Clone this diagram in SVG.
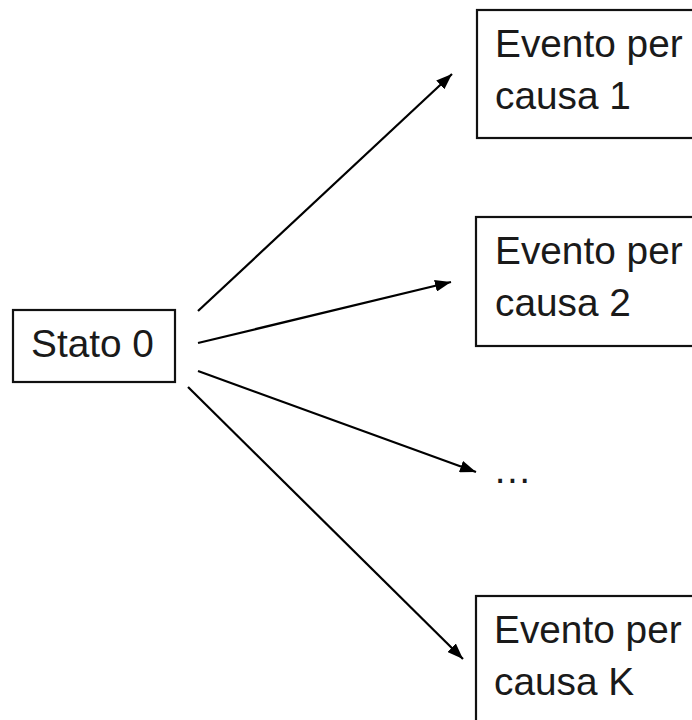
<svg xmlns="http://www.w3.org/2000/svg" width="692" height="720" viewBox="0 0 692 720">
<style>
.box{fill:#fff;stroke:#111;stroke-width:2.2}
.t{font-family:"Liberation Sans",Arial,sans-serif;font-size:38.8px;fill:#1a1a1a}
.c{stroke:#000;stroke-width:2.2;fill:none;marker-end:url(#ah)}
</style>
<defs>
<marker id="ah" markerUnits="userSpaceOnUse" markerWidth="16" markerHeight="12" refX="16" refY="6" orient="auto">
<path d="M0,0 L16,6 L0,12 z" fill="#000"/>
</marker>
</defs>
<rect width="692" height="720" fill="#fff"/>
<g id="connectors">
<line class="c" x1="198" y1="311" x2="452" y2="74"/>
<line class="c" x1="198" y1="343" x2="451" y2="282"/>
<line class="c" x1="198" y1="371" x2="476" y2="472"/>
<line class="c" x1="188" y1="387" x2="463" y2="659"/>
</g>
<g id="stato0">
<rect class="box" x="13" y="310" width="162" height="72"/>
<text class="t" x="31" y="357">Stato 0</text>
</g>
<g id="causa1">
<rect class="box" x="477" y="10" width="240" height="128"/>
<text class="t" x="495" y="57">Evento per</text>
<text class="t" x="495" y="109">causa 1</text>
</g>
<g id="causa2">
<rect class="box" x="476" y="217" width="240" height="129"/>
<text class="t" x="495" y="264">Evento per</text>
<text class="t" x="495" y="316">causa 2</text>
</g>
<g id="ellipsis">
<text class="t" x="493" y="483">…</text>
</g>
<g id="causaK">
<rect class="box" x="476" y="596" width="240" height="140"/>
<text class="t" x="494" y="643">Evento per</text>
<text class="t" x="494" y="695">causa K</text>
</g>
</svg>
